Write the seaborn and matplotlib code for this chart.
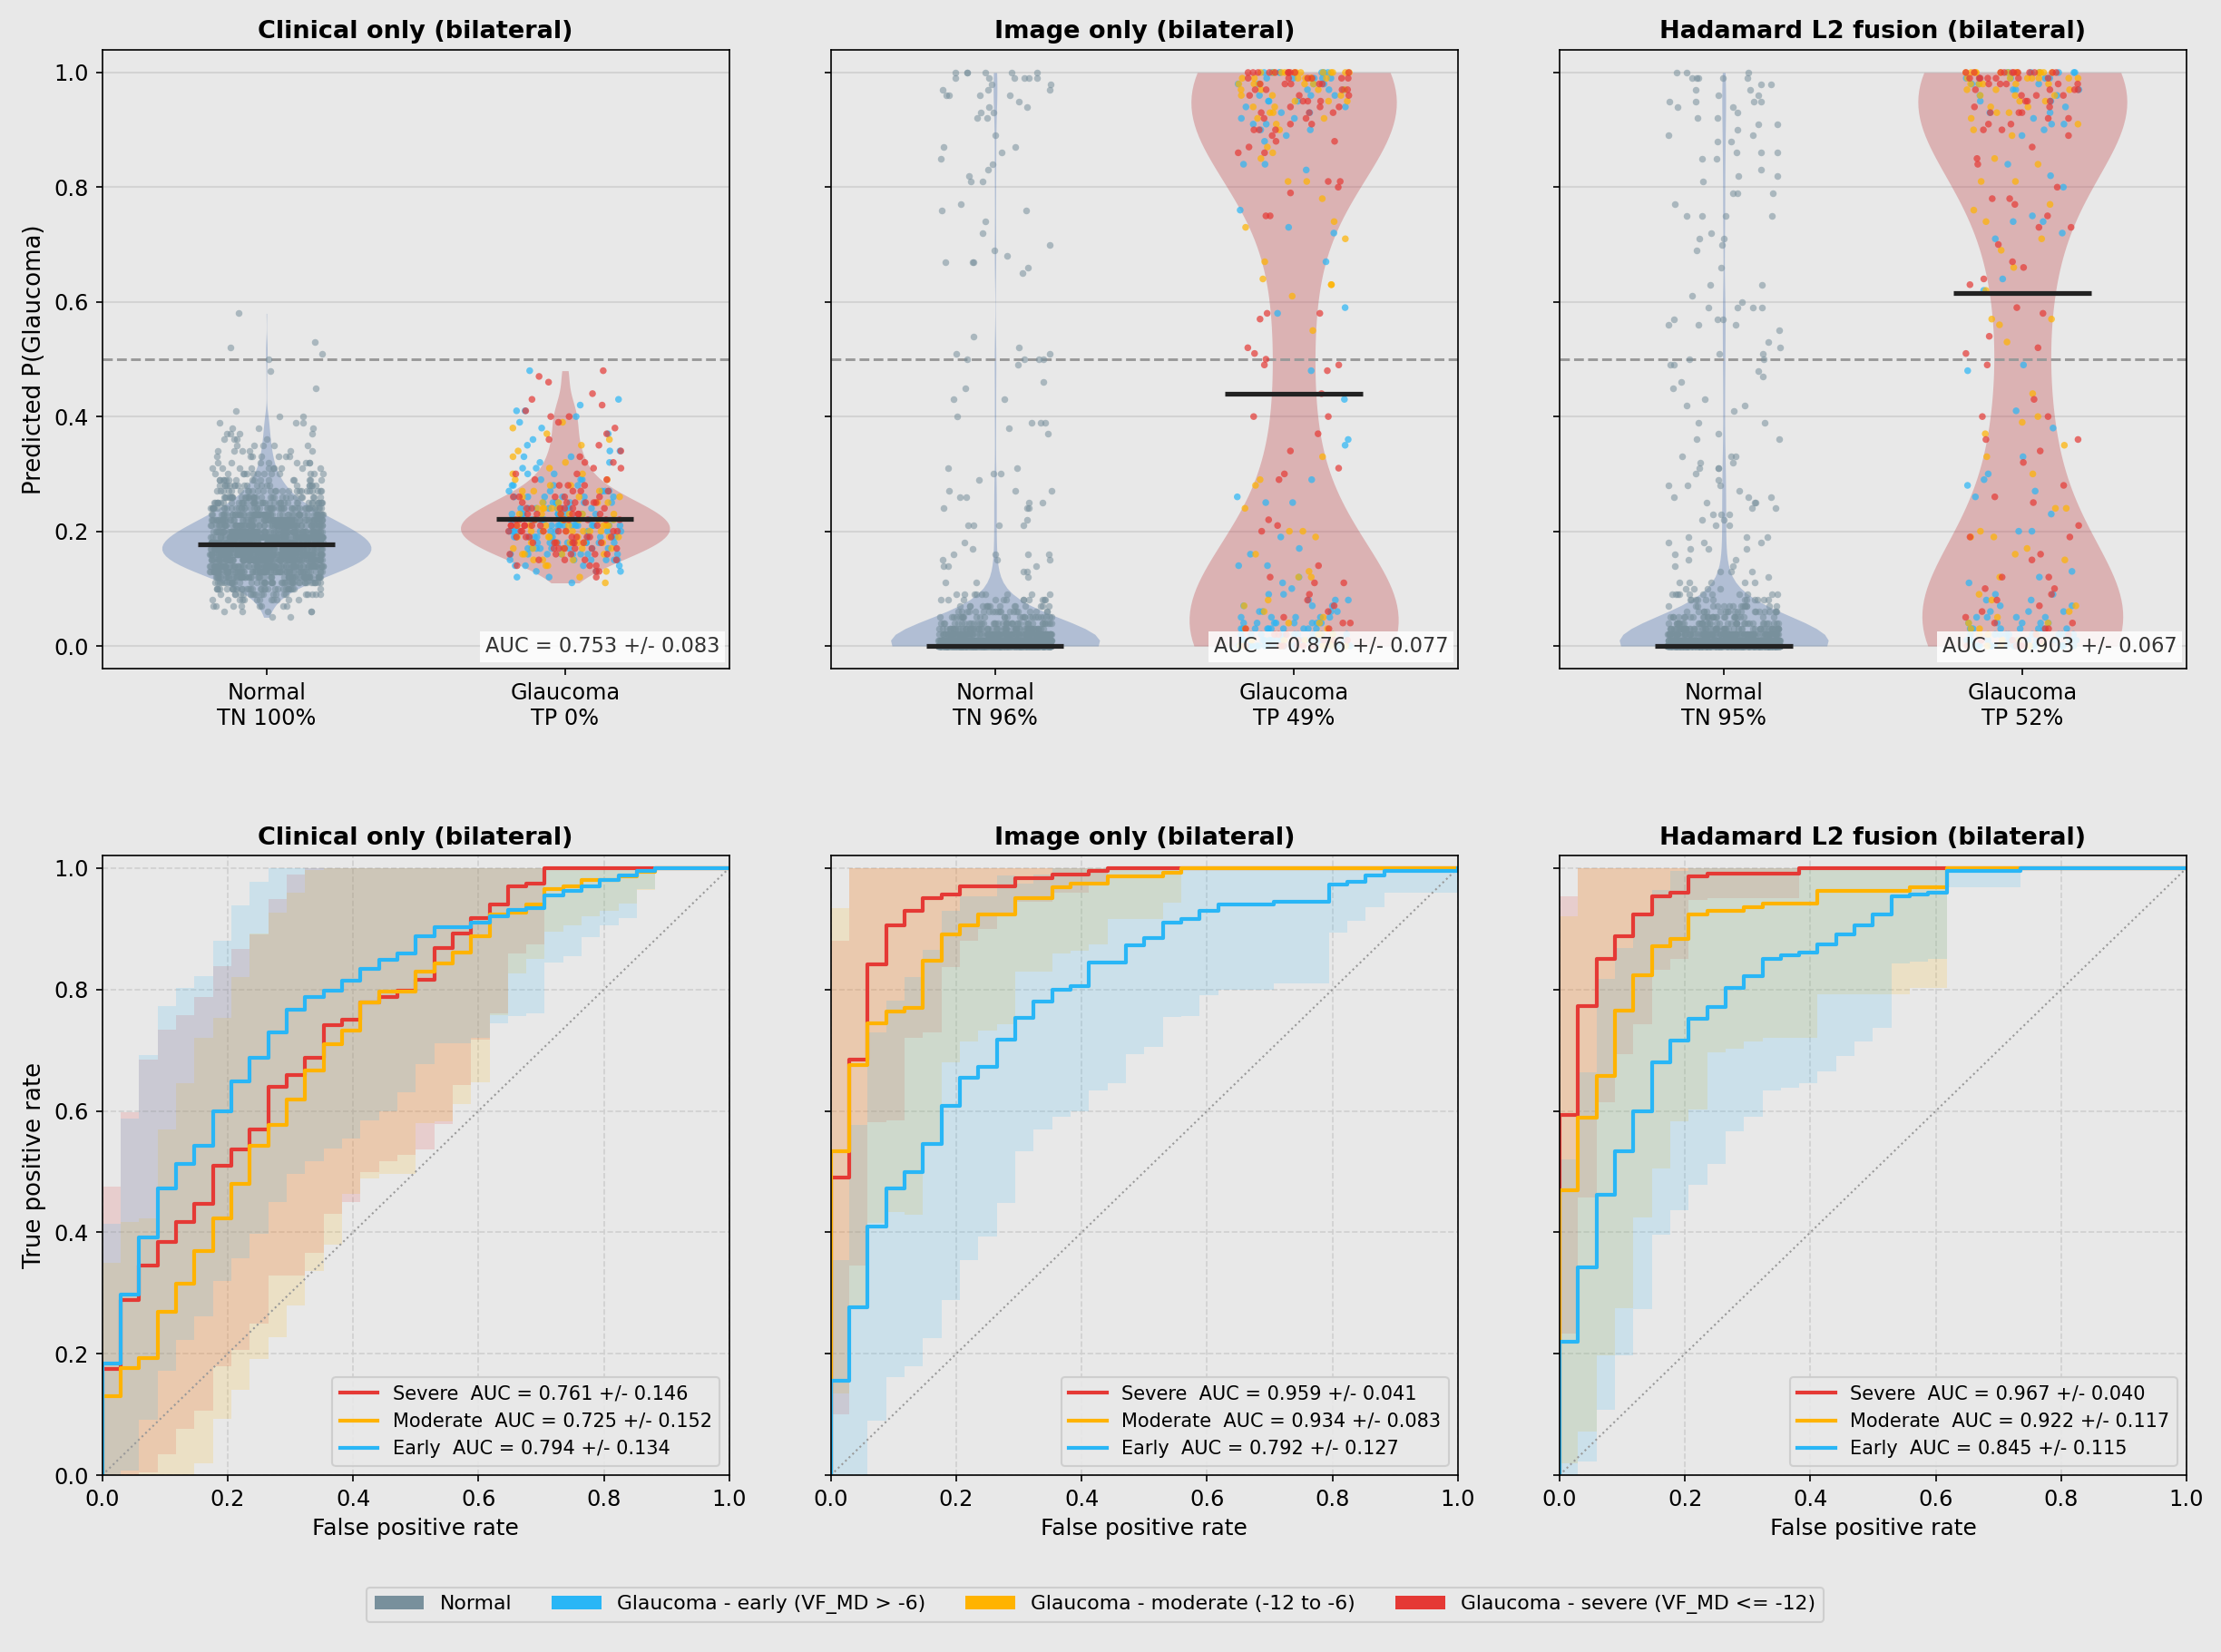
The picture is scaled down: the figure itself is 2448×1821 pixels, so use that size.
import numpy as np
import pandas as pd
import matplotlib
matplotlib.use("Agg")
import matplotlib.pyplot as plt
import seaborn as sns
from matplotlib.patches import Patch

# ---------------- text / summary values ----------------
models = ["Clinical only (bilateral)", "Image only (bilateral)", "Hadamard L2 fusion (bilateral)"]
groups = ["Normal", "Glaucoma"]
sev_order = ["Early", "Moderate", "Severe"]
tn_labels = ["TN 100%", "TN 96%", "TN 95%"]
tp_labels = ["TP 0%", "TP 49%", "TP 52%"]
auc_all = ["0.753 +/- 0.083", "0.876 +/- 0.077", "0.903 +/- 0.067"]
medians = [[0.177, 0.221], [0.0, 0.44], [0.0, 0.615]]

# per-severity ROC AUC text (severe, moderate, early)
clin_sev_auc = ["0.761 +/- 0.146", "0.725 +/- 0.152", "0.794 +/- 0.134"]
img_sev_auc = ["0.959 +/- 0.041", "0.934 +/- 0.083", "0.792 +/- 0.127"]
had_sev_auc = ["0.967 +/- 0.040", "0.922 +/- 0.117", "0.845 +/- 0.115"]

# ---------------- predicted probabilities (counts per 0.01 bin + single values) ----------------
# clinical only
clin_normal_start = 0.05
clin_normal_counts = [2, 5, 8, 12, 20, 32, 45, 62, 80, 95,
                      108, 115, 118, 115, 108, 98, 86, 74, 62, 50,
                      40, 32, 25, 20, 16, 13, 10, 8, 7, 6,
                      5, 4, 4, 3, 3, 2, 1, 0, 0, 0,
                      1, 0, 0, 1, 0, 1, 1, 1, 1, 0,
                      0, 0, 0, 1]
clin_glau_start = 0.11
clin_early_counts = [1, 2, 3, 4, 6, 8, 9, 10, 11, 11, 11, 11, 10, 9, 7, 6, 5, 4, 3, 2,
                     2, 2, 2, 2, 1, 1, 1, 1, 1, 1, 2, 1, 1, 0, 0, 0, 0, 1]
clin_moderate_counts = [1, 1, 1, 2, 3, 4, 5, 6, 6, 7, 7, 6, 6, 5, 4, 3, 3, 2, 2, 2,
                        1, 1, 1, 1, 1, 1, 1, 1, 1, 0, 0, 0, 0, 0, 0, 0, 0, 0]
clin_severe_counts = [0, 1, 2, 3, 4, 5, 6, 7, 8, 8, 8, 8, 7, 6, 6, 5, 3, 3, 2, 2,
                      2, 2, 1, 1, 1, 1, 1, 1, 1, 2, 1, 1, 1, 1, 0, 1, 1, 1]

# image only
img_normal_low = [820, 260, 120, 65, 40, 28, 20, 15, 12, 9]            # 0.00 .. 0.09
img_normal_mid = [0.11, 0.11, 0.12, 0.13, 0.13, 0.14, 0.14, 0.14, 0.15, 0.15, 0.15, 0.16, 0.16,
                  0.16, 0.16, 0.17, 0.18, 0.21, 0.21, 0.21, 0.21, 0.22, 0.24, 0.24, 0.24, 0.25,
                  0.25, 0.26, 0.26, 0.27, 0.27, 0.27, 0.29, 0.30, 0.30, 0.31, 0.31, 0.37, 0.38,
                  0.39, 0.39, 0.39, 0.40, 0.43, 0.43, 0.45, 0.46, 0.49, 0.50, 0.50, 0.50, 0.50,
                  0.51, 0.51, 0.52, 0.54, 0.65, 0.66, 0.67, 0.67, 0.67, 0.68, 0.69, 0.70, 0.72,
                  0.74, 0.76, 0.76, 0.77, 0.81, 0.82, 0.81, 0.83, 0.84, 0.85, 0.86, 0.87, 0.87,
                  0.89, 0.92, 0.92, 0.93, 0.93, 0.94, 0.94, 0.95, 0.96, 0.96, 0.97, 0.97, 0.96,
                  0.96, 0.97, 0.98, 0.98, 0.99, 0.99, 0.99, 0.99, 1.00, 1.00, 1.00, 1.00, 1.00,
                  0.99, 0.99, 1.00]
img_early_low = [18, 15, 12, 10, 8, 5, 4, 3, 3, 2]
img_early_mid = [0.10, 0.11, 0.12, 0.14, 0.14, 0.16, 0.17, 0.19, 0.25, 0.25, 0.26, 0.29, 0.35,
                 0.36, 0.43, 0.48, 0.58, 0.59, 0.67, 0.72, 0.73, 0.76, 0.83, 0.84, 0.84, 0.88, 0.89]
img_early_high = [2, 2, 2, 2, 2, 3, 3, 3, 4, 5, 8]                      # 0.90 .. 1.00
img_moderate_low = [6, 4, 3, 2, 2, 1, 1, 1, 1, 0]
img_moderate_mid = [0.12, 0.12, 0.13, 0.16, 0.19, 0.20, 0.20, 0.24, 0.28, 0.29, 0.33, 0.55, 0.61,
                    0.63, 0.63, 0.64, 0.67, 0.71, 0.73, 0.74, 0.78, 0.81, 0.81, 0.85, 0.86, 0.87]
img_moderate_high = [1, 1, 2, 2, 2, 3, 3, 4, 5, 7, 12]
img_severe_low = [6, 4, 3, 2, 2, 1, 1, 1, 1, 1]
img_severe_mid = [0.11, 0.11, 0.12, 0.14, 0.20, 0.21, 0.22, 0.29, 0.30, 0.31, 0.34, 0.37, 0.40,
                  0.40, 0.44, 0.48, 0.49, 0.49, 0.50, 0.51, 0.52, 0.57, 0.58, 0.58, 0.75, 0.75,
                  0.79, 0.80, 0.81, 0.81, 0.86, 0.86, 0.87, 0.88, 0.88, 0.89]
img_severe_high = [3, 2, 2, 3, 3, 3, 3, 4, 5, 6, 10]

# hadamard fusion
had_normal_low = [760, 240, 110, 60, 38, 28, 20, 16, 12, 10]
had_normal_mid = [0.09, 0.10, 0.10, 0.11, 0.11, 0.11, 0.11, 0.12, 0.13, 0.11, 0.10, 0.10,
                  0.13, 0.14, 0.15, 0.16, 0.17, 0.17, 0.14, 0.13, 0.18, 0.17, 0.15,
                  0.23, 0.22, 0.21, 0.21, 0.22, 0.19, 0.19, 0.19, 0.18, 0.18,
                  0.28, 0.27, 0.26, 0.28, 0.28, 0.25, 0.26, 0.26, 0.24, 0.23, 0.23, 0.25, 0.24, 0.25,
                  0.33, 0.33, 0.32, 0.32, 0.31, 0.31, 0.33, 0.31, 0.30, 0.29,
                  0.39, 0.39, 0.37, 0.36, 0.36,
                  0.47, 0.46, 0.45, 0.43, 0.42, 0.42, 0.41,
                  0.52, 0.51, 0.51, 0.50, 0.50, 0.49, 0.48, 0.49,
                  0.57, 0.57, 0.57, 0.56, 0.56, 0.56, 0.55, 0.53,
                  0.66, 0.63, 0.63, 0.61, 0.60, 0.59, 0.59, 0.59, 0.59,
                  0.72, 0.71, 0.71, 0.70, 0.69,
                  0.77, 0.75, 0.75, 0.75, 0.75,
                  0.86, 0.85, 0.85, 0.86, 0.86, 0.82, 0.83, 0.82, 0.81, 0.79, 0.79, 0.79,
                  0.94, 0.94, 0.93, 0.92, 0.92, 0.91, 0.91, 0.89, 0.89, 0.88, 0.88, 0.90,
                  0.97, 0.96, 0.97, 0.98, 0.96, 0.95, 0.95, 0.95, 0.95,
                  1.00, 1.00, 0.99, 0.99, 0.99, 1.00, 0.99, 0.98, 0.99]
had_early_low = [17, 13, 10, 8, 5, 4, 3, 2, 2, 2]
had_early_mid = [0.11, 0.12, 0.13, 0.20, 0.20, 0.23, 0.26, 0.27, 0.28, 0.29, 0.30, 0.33, 0.38,
                 0.41, 0.48, 0.49, 0.62, 0.64, 0.71, 0.72, 0.74, 0.74, 0.75, 0.80, 0.82, 0.84, 0.89]
had_early_high = [1, 2, 1, 2, 1, 2, 2, 3, 3, 5, 7]
had_moderate_low = [4, 3, 3, 2, 2, 1, 1, 1, 1, 1]
had_moderate_mid = [0.12, 0.15, 0.16, 0.17, 0.19, 0.19, 0.20, 0.24, 0.24, 0.30, 0.33, 0.35, 0.37,
                    0.39, 0.40, 0.44, 0.53, 0.56, 0.57, 0.57, 0.62, 0.66, 0.69, 0.71, 0.74, 0.76,
                    0.77, 0.81, 0.81, 0.84, 0.85, 0.89]
had_moderate_high = [1, 1, 1, 2, 2, 2, 3, 3, 5, 7, 12]
had_severe_low = [4, 3, 2, 2, 2, 1, 1, 1, 1, 1]
had_severe_mid = [0.10, 0.10, 0.12, 0.12, 0.15, 0.16, 0.19, 0.19, 0.21, 0.25, 0.26, 0.28, 0.32,
                  0.34, 0.36, 0.36, 0.40, 0.40, 0.43, 0.49, 0.51, 0.52, 0.54, 0.58, 0.59, 0.63,
                  0.64, 0.66, 0.67, 0.70, 0.73, 0.73, 0.75, 0.77, 0.78, 0.78, 0.80, 0.84, 0.85,
                  0.87, 0.89]
had_severe_high = [2, 2, 2, 3, 2, 3, 3, 4, 5, 7, 11]

# ---------------- mean ROC curves on a 35-point FPR grid, with std ----------------
fpr_grid = np.linspace(0, 1, 35)

clin_tpr_severe = [0.175, 0.288, 0.345, 0.384, 0.417, 0.447, 0.509, 0.537, 0.57, 0.639, 0.659, 0.687,
                   0.741, 0.75, 0.779, 0.787, 0.798, 0.816, 0.869, 0.892, 0.917, 0.94, 0.97, 0.974,
                   1, 1, 1, 1, 1, 1, 1, 1, 1, 1, 1]
clin_tpr_moderate = [0.13, 0.177, 0.193, 0.269, 0.316, 0.37, 0.423, 0.48, 0.542, 0.577, 0.619, 0.667,
                     0.71, 0.733, 0.779, 0.796, 0.796, 0.83, 0.843, 0.861, 0.887, 0.923, 0.927, 0.94,
                     0.965, 0.97, 0.98, 0.98, 0.986, 0.994, 1, 1, 1, 1, 1]
clin_tpr_early = [0.184, 0.298, 0.392, 0.472, 0.513, 0.542, 0.60, 0.648, 0.688, 0.73, 0.766, 0.787,
                  0.798, 0.814, 0.834, 0.849, 0.86, 0.887, 0.902, 0.902, 0.91, 0.92, 0.931, 0.934,
                  0.955, 0.962, 0.97, 0.98, 0.988, 0.996, 1, 1, 1, 1, 1]
clin_sd_severe = [0.30, 0.31, 0.34, 0.35, 0.34, 0.34, 0.33, 0.33, 0.32, 0.31, 0.33, 0.32, 0.31, 0.30,
                  0.28, 0.27, 0.27, 0.28, 0.29, 0.25, 0.20, 0.18, 0.11, 0.10,
                  0, 0, 0, 0, 0, 0, 0, 0, 0, 0, 0]
clin_sd_moderate = [0.22, 0.24, 0.23, 0.30, 0.33, 0.35, 0.33, 0.34, 0.35, 0.35, 0.34, 0.33, 0.33,
                    0.27, 0.29, 0.30, 0.30, 0.25, 0.26, 0.25, 0.24, 0.165, 0.10, 0.09, 0.07, 0.065,
                    0.06, 0.05, 0.045, 0.03, 0, 0, 0, 0, 0]
clin_sd_early = [0.23, 0.29, 0.30, 0.30, 0.29, 0.28, 0.28, 0.29, 0.29, 0.28, 0.27, 0.27, 0.26, 0.26,
                 0.25, 0.25, 0.23, 0.21, 0.19, 0.19, 0.19, 0.176, 0.175, 0.174, 0.11, 0.107, 0.084,
                 0.075, 0.07, 0.03, 0, 0, 0, 0, 0]

img_tpr_severe = [0.49, 0.685, 0.841, 0.905, 0.93, 0.95, 0.957, 0.97, 0.97, 0.97, 0.984, 0.984, 0.99,
                  0.99, 0.995] + [1] * 20
img_tpr_moderate = [0.534, 0.676, 0.745, 0.763, 0.769, 0.848, 0.89, 0.905, 0.923, 0.923, 0.95, 0.95,
                    0.969, 0.974, 0.974, 0.986, 0.986, 0.986, 0.993] + [1] * 16
img_tpr_early = [0.155, 0.277, 0.41, 0.472, 0.50, 0.546, 0.609, 0.654, 0.673, 0.718, 0.754, 0.78,
                 0.80, 0.805, 0.844, 0.845, 0.873, 0.885, 0.91, 0.916, 0.93, 0.94, 0.94, 0.94,
                 0.945, 0.945, 0.945, 0.973, 0.978, 0.988, 0.996, 0.996, 0.996, 0.996, 1.0]
img_sd_severe = [0.39, 0.34, 0.26, 0.32, 0.21, 0.22, 0.12, 0.09, 0.07, 0.05, 0.04, 0.04, 0.03, 0.03,
                 0.02] + [0] * 20
img_sd_moderate = [0.40, 0.40, 0.33, 0.33, 0.34, 0.30, 0.21, 0.19, 0.19, 0.18, 0.12, 0.12, 0.11,
                   0.11, 0.10, 0.07, 0.07, 0.07, 0.05] + [0] * 16
img_sd_early = [0.20, 0.30, 0.32, 0.31, 0.32, 0.32, 0.32, 0.30, 0.28, 0.27, 0.22, 0.21, 0.21, 0.205,
                0.21, 0.20, 0.18, 0.18, 0.155, 0.16, 0.14, 0.14, 0.14, 0.14, 0.135, 0.135, 0.135,
                0.08, 0.065, 0.053, 0.036, 0.036, 0.036, 0.036, 0]

had_tpr_severe = [0.593, 0.773, 0.85, 0.888, 0.923, 0.953, 0.96, 0.987, 0.991, 0.991, 0.991, 0.991,
                  0.991] + [1] * 22
had_tpr_moderate = [0.47, 0.589, 0.658, 0.765, 0.824, 0.871, 0.883, 0.923, 0.93, 0.93, 0.935,
                    0.941, 0.941, 0.941, 0.9625, 0.9625, 0.9625, 0.9625, 0.9625, 0.968, 0.968] + [1] * 14
had_tpr_early = [0.22, 0.343, 0.4625, 0.533, 0.60, 0.68, 0.716, 0.752, 0.771, 0.802, 0.822, 0.851,
                 0.857, 0.861, 0.875, 0.89, 0.905, 0.923, 0.953, 0.956, 0.96,
                 0.996, 0.996, 0.996, 0.996] + [1] * 10
had_sd_severe = [0.36, 0.315, 0.235, 0.195, 0.18, 0.12, 0.11, 0.04, 0.04, 0.04, 0.04, 0.04,
                 0.04] + [0] * 22
had_sd_moderate = [0.45, 0.517, 0.46, 0.49, 0.40, 0.366, 0.30, 0.32, 0.233, 0.227, 0.22,
                   0.22, 0.22, 0.22, 0.17, 0.17, 0.17, 0.17, 0.17, 0.165, 0.165] + [0] * 14
had_sd_early = [0.30, 0.32, 0.355, 0.336, 0.327, 0.284, 0.28, 0.274, 0.258, 0.236, 0.232, 0.217,
                0.219, 0.216, 0.21, 0.20, 0.19, 0.186, 0.11, 0.11, 0.11,
                0.027, 0.027, 0.027, 0.027] + [0] * 10

# ---------------- colours ----------------
c_normal = "#78909c"
sev_colors = {"Early": "#29b6f6", "Moderate": "#ffb300", "Severe": "#e53935"}
violin_colors = {"Normal": "#4c72b0", "Glaucoma": "#c44e52"}


def from_counts(start, counts):
    vals = []
    for i, c in enumerate(counts):
        vals += [round(start + 0.01 * i, 2)] * c
    return vals


rows = []
def add(model, group, sev, vals):
    for v in vals:
        rows.append((model, group, sev, v))

m0, m1, m2 = models
add(m0, "Normal", "Normal", from_counts(clin_normal_start, clin_normal_counts))
add(m0, "Glaucoma", "Early", from_counts(clin_glau_start, clin_early_counts))
add(m0, "Glaucoma", "Moderate", from_counts(clin_glau_start, clin_moderate_counts))
add(m0, "Glaucoma", "Severe", from_counts(clin_glau_start, clin_severe_counts))

add(m1, "Normal", "Normal", from_counts(0.0, img_normal_low) + img_normal_mid)
add(m1, "Glaucoma", "Early", from_counts(0.0, img_early_low) + img_early_mid + from_counts(0.9, img_early_high))
add(m1, "Glaucoma", "Moderate", from_counts(0.0, img_moderate_low) + img_moderate_mid + from_counts(0.9, img_moderate_high))
add(m1, "Glaucoma", "Severe", from_counts(0.0, img_severe_low) + img_severe_mid + from_counts(0.9, img_severe_high))

add(m2, "Normal", "Normal", from_counts(0.0, had_normal_low) + had_normal_mid)
add(m2, "Glaucoma", "Early", from_counts(0.0, had_early_low) + had_early_mid + from_counts(0.9, had_early_high))
add(m2, "Glaucoma", "Moderate", from_counts(0.0, had_moderate_low) + had_moderate_mid + from_counts(0.9, had_moderate_high))
add(m2, "Glaucoma", "Severe", from_counts(0.0, had_severe_low) + had_severe_mid + from_counts(0.9, had_severe_high))

scores = pd.DataFrame(rows, columns=["model", "group", "severity", "p"])

roc = {
    m0: {"Severe": (clin_tpr_severe, clin_sd_severe), "Moderate": (clin_tpr_moderate, clin_sd_moderate),
         "Early": (clin_tpr_early, clin_sd_early)},
    m1: {"Severe": (img_tpr_severe, img_sd_severe), "Moderate": (img_tpr_moderate, img_sd_moderate),
         "Early": (img_tpr_early, img_sd_early)},
    m2: {"Severe": (had_tpr_severe, had_sd_severe), "Moderate": (had_tpr_moderate, had_sd_moderate),
         "Early": (had_tpr_early, had_sd_early)},
}
sev_auc = {m0: clin_sev_auc, m1: img_sev_auc, m2: had_sev_auc}

# ---------------- figure ----------------
bg = "#e8e8e8"
plt.rcParams.update({
    "figure.facecolor": bg,
    "axes.facecolor": bg,
    "axes.edgecolor": "black",
    "font.family": ["DejaVu Sans"],
    "xtick.labelsize": 11.5,
    "ytick.labelsize": 11.5,
})
np.random.seed(3)

fig, axes = plt.subplots(2, 3, figsize=(16.32, 12.14), dpi=150, sharey="row")
fig.subplots_adjust(left=0.046, right=0.9845, top=0.97, bottom=0.107, wspace=0.162, hspace=0.302)

for j, m in enumerate(models):
    ax = axes[0, j]
    d = scores[scores.model == m]
    sns.violinplot(data=d, x="group", y="p", order=groups, hue="group", hue_order=groups,
                   palette=violin_colors, inner=None, cut=0, width=0.7, density_norm="width",
                   linewidth=0, saturation=1, legend=False, ax=ax)
    for c in ax.collections:
        c.set_alpha(0.35)
        c.set_zorder(1)
    ax.axhline(0.5, color="#999999", ls="--", lw=1.4, zorder=1.5)
    sns.stripplot(data=d[d.group == "Normal"], x="group", y="p", order=groups, color=c_normal,
                  size=3.6, jitter=0.19, alpha=0.55, linewidth=0, ax=ax, zorder=2)
    sns.stripplot(data=d[d.group == "Glaucoma"], x="group", y="p", order=groups, hue="severity",
                  hue_order=sev_order, palette=sev_colors, dodge=False, size=3.6, jitter=0.19,
                  alpha=0.7, linewidth=0, legend=False, ax=ax, zorder=3)
    for i, med in enumerate(medians[j]):
        ax.hlines(med, i - 0.23, i + 0.23, colors="#222222", lw=2.5, zorder=5)
    ax.text(0.985, 0.036, f"AUC = {auc_all[j]}", transform=ax.transAxes, ha="right", va="center",
            fontsize=10.8, color="#333333", zorder=6,
            bbox=dict(boxstyle="square,pad=0.25", facecolor="white", edgecolor="none", alpha=0.85))
    ax.set_xlim(-0.55, 1.55)
    ax.set_ylim(-0.04, 1.04)
    ax.set_yticks(np.arange(0, 1.01, 0.2))
    ax.set_xticks([0, 1])
    ax.set_xticklabels([f"Normal\n{tn_labels[j]}", f"Glaucoma\n{tp_labels[j]}"], fontsize=11.5)
    ax.set_xlabel("")
    ax.set_ylabel("Predicted P(Glaucoma)" if j == 0 else "", fontsize=12.5)
    ax.grid(axis="y", color="#d3d3d3", lw=1)
    ax.grid(axis="x", visible=False)
    ax.set_axisbelow(True)
    ax.set_title(m, fontsize=13, fontweight="bold")

for j, m in enumerate(models):
    ax = axes[1, j]
    ax.plot([0, 1], [0, 1], ls=":", color="#999999", lw=1)
    for k, sev in enumerate(["Severe", "Moderate", "Early"]):
        tpr, sd = np.array(roc[m][sev][0]), np.array(roc[m][sev][1])
        lo = np.clip(tpr - sd, 0, 1)
        hi = np.clip(tpr + sd, 0, 1)
        ax.fill_between(fpr_grid, lo, hi, step="post", color=sev_colors[sev], alpha=0.15, lw=0)
        ax.plot(np.r_[0, fpr_grid], np.r_[0, tpr], drawstyle="steps-post", color=sev_colors[sev],
                lw=2, label=f"{sev}  AUC = {sev_auc[m][k]}")
    ax.set_xlim(0, 1)
    ax.set_ylim(0, 1.02)
    ax.set_xticks(np.arange(0, 1.01, 0.2))
    ax.set_yticks(np.arange(0, 1.01, 0.2))
    ax.grid(True, ls="--", color="#cfcfcf", lw=0.8)
    ax.set_axisbelow(True)
    ax.set_xlabel("False positive rate", fontsize=12)
    ax.set_ylabel("True positive rate" if j == 0 else "", fontsize=12.5)
    ax.set_title(m, fontsize=13, fontweight="bold")
    ax.legend(loc="lower right", fontsize=10, framealpha=0.9)

handles = [Patch(facecolor=c_normal, label="Normal"),
           Patch(facecolor=sev_colors["Early"], label="Glaucoma - early (VF_MD > -6)"),
           Patch(facecolor=sev_colors["Moderate"], label="Glaucoma - moderate (-12 to -6)"),
           Patch(facecolor=sev_colors["Severe"], label="Glaucoma - severe (VF_MD <= -12)")]
fig.legend(handles=handles, loc="lower center", bbox_to_anchor=(0.493, 0.012), ncol=4,
           fontsize=10.5, handlelength=2.5, framealpha=0.9)

fig.savefig("out.png", dpi=150, facecolor=bg)
